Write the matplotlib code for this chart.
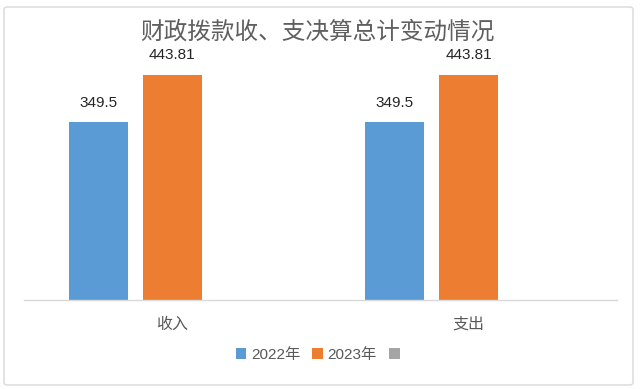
import matplotlib
matplotlib.use("Agg")
import matplotlib.pyplot as plt
from matplotlib.patches import FancyBboxPatch
import numpy as np

plt.rcParams['font.family'] = ['Liberation Sans', 'Noto Sans CJK SC', 'DejaVu Sans']

title = "财政拨款收、支决算总计变动情况"
categories = ["收入", "支出"]
series_names = ["2022年", "2023年", ""]
values_2022 = [349.5, 349.5]
values_2023 = [443.81, 443.81]
labels_2022 = ["349.5", "349.5"]
labels_2023 = ["443.81", "443.81"]
colors = ["#5B9BD5", "#ED7D31", "#A5A5A5"]

W, H = 640, 389
fig = plt.figure(figsize=(W / 100, H / 100), dpi=100)
ax = fig.add_axes([24 / W, (H - 300) / H, (617 - 24) / W, (300 - 46) / H])

x = np.arange(len(categories))
bw = 59 / 297
step = 74 / 297
b1 = ax.bar(x - step, values_2022, bw, color=colors[0], label=series_names[0])
b2 = ax.bar(x, values_2023, bw, color=colors[1], label=series_names[1])
b3 = ax.bar(x + step, [0, 0], bw, color=colors[2], label=series_names[2])

for rect, lab in zip(b1, labels_2022):
    ax.annotate(lab, (rect.get_x() + rect.get_width() / 2, rect.get_height()),
                xytext=(0, 9), textcoords="offset points", ha="center", va="bottom",
                fontsize=11, color="#262626")
for rect, lab in zip(b2, labels_2023):
    ax.annotate(lab, (rect.get_x() + rect.get_width() / 2, rect.get_height()),
                xytext=(0, 9), textcoords="offset points", ha="center", va="bottom",
                fontsize=11, color="#262626")

ax.set_xlim(-0.5, 1.5)
ax.set_ylim(0, 500)
ax.set_xticks(x)
ax.set_xticklabels(categories, fontsize=11.5, color="#595959")
ax.tick_params(axis="x", length=0, pad=12)
ax.set_yticks([])
for s in ["top", "right", "left"]:
    ax.spines[s].set_visible(False)
ax.spines["bottom"].set_color("#D9D9D9")
ax.spines["bottom"].set_linewidth(1)

fig.text(317 / W, 1 - 32 / H, title, ha="center", va="center", fontsize=17,
         color="#5F5F5F", family=['Noto Sans CJK SC', 'DejaVu Sans'])

leg = fig.legend(handles=[b1, b2, b3], labels=series_names, loc="center",
                 bbox_to_anchor=(0.5, 1 - 355 / H), ncol=3, frameon=False,
                 fontsize=11, handlelength=0.7, handleheight=0.7,
                 handletextpad=0.3, columnspacing=0.8)
for t in leg.get_texts():
    t.set_color("#595959")

border = FancyBboxPatch((4 / W, 4 / H), (633 - 4) / W, (382 - 4) / H,
                        boxstyle="round,pad=0,rounding_size=0.006",
                        transform=fig.transFigure, fill=False,
                        edgecolor="#D9D9D9", linewidth=1)
fig.patches.append(border)

fig.savefig("out.png", dpi=100)
